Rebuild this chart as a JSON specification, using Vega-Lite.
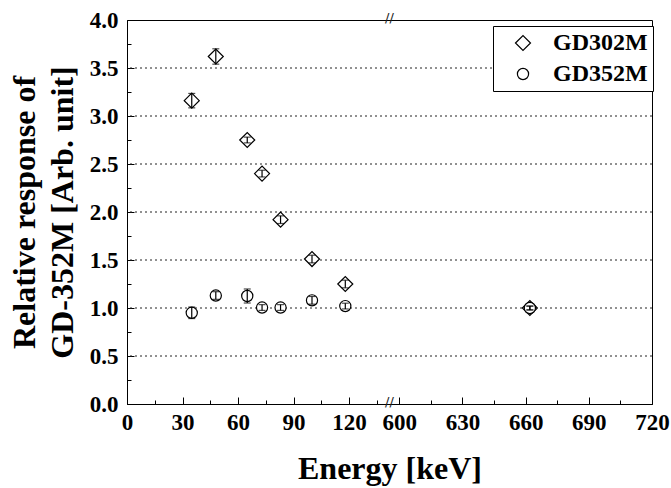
{
  "$schema": "https://vega.github.io/schema/vega-lite/v6.json",
  "width": 525,
  "height": 384,
  "autosize": {"type": "none"},
  "padding": {"left": 127, "top": 20, "right": 19, "bottom": 84},
  "config": {
    "view": {"stroke": "black", "strokeWidth": 1},
    "font": "Liberation Serif",
    "axis": {
      "labelFont": "Liberation Serif", "labelFontWeight": "bold", "labelFontSize": 23, "labelColor": "black",
      "titleFont": "Liberation Serif", "titleFontWeight": "bold", "titleFontSize": 32, "titleColor": "black",
      "domainColor": "black", "tickColor": "black", "grid": false, "labelFlush": false
    },
    "legend": {"labelFont": "Liberation Serif", "labelFontWeight": "bold"}
  },
  "datasets": {
    "pts": [
      {"E": 35, "r": 3.16, "lo": 3.085, "hi": 3.235, "s": "GD302M"},
      {"E": 48, "r": 3.62, "lo": 3.54, "hi": 3.70, "s": "GD302M"},
      {"E": 65, "r": 2.75, "lo": 2.72, "hi": 2.78, "s": "GD302M"},
      {"E": 73, "r": 2.40, "lo": 2.365, "hi": 2.435, "s": "GD302M"},
      {"E": 83, "r": 1.92, "lo": 1.88, "hi": 1.96, "s": "GD302M"},
      {"E": 100, "r": 1.51, "lo": 1.47, "hi": 1.55, "s": "GD302M"},
      {"E": 118, "r": 1.25, "lo": 1.21, "hi": 1.29, "s": "GD302M"},
      {"E": 662, "r": 1.00, "lo": 0.98, "hi": 1.02, "s": "GD302M"},
      {"E": 35, "r": 0.95, "lo": 0.89, "hi": 1.01, "s": "GD352M"},
      {"E": 48, "r": 1.13, "lo": 1.09, "hi": 1.17, "s": "GD352M"},
      {"E": 65, "r": 1.125, "lo": 1.052, "hi": 1.198, "s": "GD352M"},
      {"E": 73, "r": 1.005, "lo": 0.975, "hi": 1.035, "s": "GD352M"},
      {"E": 83, "r": 1.005, "lo": 0.975, "hi": 1.035, "s": "GD352M"},
      {"E": 100, "r": 1.08, "lo": 1.04, "hi": 1.12, "s": "GD352M"},
      {"E": 118, "r": 1.02, "lo": 0.99, "hi": 1.05, "s": "GD352M"},
      {"E": 662, "r": 1.00, "lo": 0.98, "hi": 1.02, "s": "GD352M"}
    ],
    "grid": [{"g": 0.5}, {"g": 1.0}, {"g": 1.5}, {"g": 2.0}, {"g": 2.5}, {"g": 3.0}, {"g": 3.5}],
    "brk": [{"x": 368, "y": 4.0}, {"x": 368, "y": 0.0}]
  },
  "layer": [
    {
      "data": {"name": "grid"},
      "mark": {"type": "rule", "strokeDash": [2, 3], "color": "#222", "strokeWidth": 1},
      "encoding": {
        "y": {
          "field": "g", "type": "quantitative",
          "scale": {"domain": [0, 4], "nice": false, "zero": false},
          "axis": {
            "orient": "left",
            "values": [0, 0.5, 1, 1.5, 2, 2.5, 3, 3.5, 4],
            "format": ".1f", "tickSize": -7, "labelPadding": 16,
            "labelFont": "Liberation Serif", "labelFontWeight": "bold",
            "title": ["Relative response of", "GD-352M [Arb. unit]"],
            "titlePadding": 10, "titleLineHeight": 38
          }
        }
      }
    },
    {
      "data": {"name": "grid"},
      "mark": {"type": "rule", "strokeOpacity": 0},
      "encoding": {
        "y": {
          "field": "g", "type": "quantitative",
          "scale": {"domain": [0, 4], "nice": false, "zero": false},
          "axis": {
            "orient": "left",
            "values": [0.25, 0.75, 1.25, 1.75, 2.25, 2.75, 3.25, 3.75],
            "tickSize": -4, "labels": false, "domain": false, "title": null
          }
        }
      }
    },
    {
      "data": {"name": "brk"},
      "mark": {"type": "text", "text": "//", "font": "DejaVu Sans", "fontSize": 13, "dy": -2, "color": "#222"},
      "encoding": {
        "x": {
          "field": "x", "type": "quantitative",
          "scale": {"domain": [0, 140, 597, 720], "range": [0, 259, 266, 525], "nice": false, "zero": false},
          "axis": {
            "orient": "bottom",
            "values": [0, 30, 60, 90, 120, 600, 630, 660, 690, 720],
            "tickSize": -7, "labelPadding": 14,
            "labelFont": "Liberation Serif", "labelFontWeight": "bold",
            "title": "Energy [keV]", "titlePadding": 19
          }
        },
        "y": {"field": "y", "type": "quantitative", "scale": {"domain": [0, 4], "nice": false, "zero": false}, "axis": null}
      }
    },
    {
      "data": {"name": "brk"},
      "mark": {"type": "rule", "strokeOpacity": 0},
      "encoding": {
        "x": {
          "field": "x", "type": "quantitative",
          "scale": {"domain": [0, 140, 597, 720], "range": [0, 259, 266, 525], "nice": false, "zero": false},
          "axis": {
            "orient": "bottom",
            "values": [15, 45, 75, 105, 135, 615, 645, 675, 705],
            "tickSize": -4, "labels": false, "domain": false, "title": null
          }
        }
      }
    },
    {
      "data": {"name": "pts"},
      "mark": {"type": "point", "filled": true, "fill": "white", "stroke": "black", "strokeWidth": 1.2, "opacity": 1},
      "encoding": {
        "x": {"field": "E", "type": "quantitative", "axis": null},
        "y": {"field": "r", "type": "quantitative", "axis": null},
        "shape": {
          "field": "s", "type": "nominal",
          "scale": {"domain": ["GD302M", "GD352M"], "range": ["diamond", "circle"]},
          "legend": {
            "title": null, "orient": "none", "legendX": 366, "legendY": 6,
            "strokeColor": "black", "fillColor": "white", "padding": 5,
            "symbolOffset": 13, "labelOffset": 18, "rowPadding": 7,
            "symbolStrokeColor": "black", "symbolFillColor": "white", "symbolStrokeWidth": 1.2,
            "labelFont": "Liberation Serif", "labelFontWeight": "bold", "labelFontSize": 24, "labelColor": "black"
          }
        },
        "size": {
          "field": "s", "type": "nominal",
          "scale": {"domain": ["GD302M", "GD352M"], "range": [225, 125]}
        }
      }
    },
    {
      "data": {"name": "pts"},
      "mark": {"type": "rule", "color": "black", "strokeWidth": 1.2},
      "encoding": {
        "x": {"field": "E", "type": "quantitative", "axis": null},
        "y": {"field": "lo", "type": "quantitative", "axis": null},
        "y2": {"field": "hi"}
      }
    },
    {
      "data": {"name": "pts"},
      "mark": {"type": "tick", "orient": "horizontal", "color": "black", "size": 7, "thickness": 1.2},
      "encoding": {
        "x": {"field": "E", "type": "quantitative", "axis": null},
        "y": {"field": "lo", "type": "quantitative", "axis": null}
      }
    },
    {
      "data": {"name": "pts"},
      "mark": {"type": "tick", "orient": "horizontal", "color": "black", "size": 7, "thickness": 1.2},
      "encoding": {
        "x": {"field": "E", "type": "quantitative", "axis": null},
        "y": {"field": "hi", "type": "quantitative", "axis": null}
      }
    }
  ],
  "resolve": {"axis": {"x": "independent", "y": "independent"}}
}
